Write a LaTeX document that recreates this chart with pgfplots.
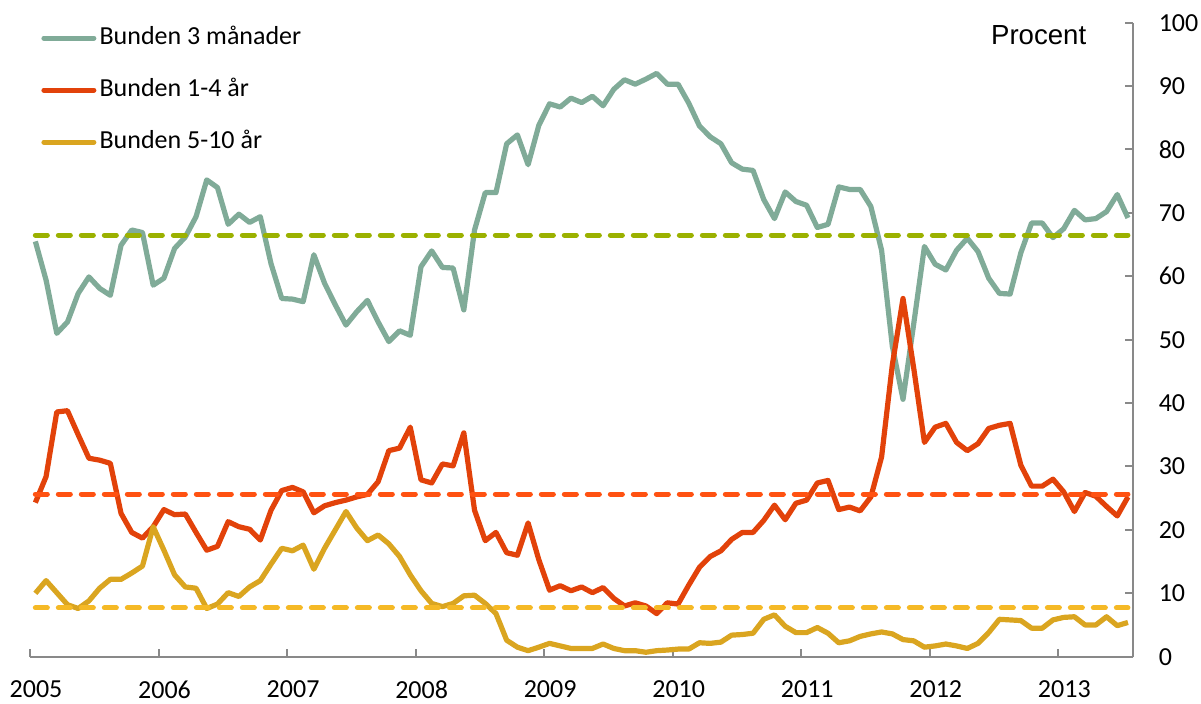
\documentclass[border=0pt]{standalone}
\usepackage{fontspec}
\setmainfont{Carlito}
\newfontfamily\arialfont{Liberation Sans}
\usepackage{pgfplots}
\pgfplotsset{compat=1.18}
\usepackage{pgfplotstable}

\definecolor{gline}{HTML}{80AB98}
\definecolor{rline}{HTML}{E2420A}
\definecolor{yline}{HTML}{DAA520}
\definecolor{gdash}{HTML}{9BB100}
\definecolor{rdash}{HTML}{FF5212}
\definecolor{ydash}{HTML}{F5B926}
\definecolor{axisgray}{HTML}{898989}

\pgfplotstableread{
i g r y
0 65.5 24.3 10.0
1 59.4 28.4 12.0
2 51.0 38.6 10.1
3 52.8 38.8 8.2
4 57.3 35.0 7.6
5 59.9 31.3 8.8
6 58.1 31.0 10.8
7 57.0 30.5 12.2
8 64.9 22.6 12.2
9 67.3 19.6 13.2
10 66.9 18.7 14.3
11 58.6 20.5 20.5
12 59.7 23.2 16.8
13 64.4 22.4 12.9
14 66.2 22.5 11.0
15 69.4 19.6 10.8
16 75.2 16.8 7.6
17 74.0 17.4 8.3
18 68.2 21.3 10.1
19 69.8 20.5 9.5
20 68.5 20.1 11.0
21 69.4 18.4 12.0
22 62.0 23.1 14.6
23 56.5 26.2 17.1
24 56.4 26.7 16.7
25 56.0 26.0 17.6
26 63.4 22.7 13.8
27 58.9 23.8 17.1
28 55.5 24.3 20.0
29 52.3 24.7 22.9
30 54.4 25.2 20.3
31 56.2 25.6 18.3
32 52.8 27.6 19.2
33 49.7 32.5 17.8
34 51.4 32.9 15.8
35 50.7 36.2 12.9
36 61.5 27.9 10.4
37 64.0 27.4 8.4
38 61.4 30.4 7.9
39 61.3 30.1 8.4
40 54.7 35.3 9.6
41 67.3 23.1 9.7
42 73.2 18.3 8.4
43 73.2 19.6 6.8
44 80.9 16.4 2.6
45 82.3 16.0 1.5
46 77.6 21.1 0.95
47 83.8 15.3 1.5
48 87.2 10.5 2.1
49 86.7 11.2 1.7
50 88.1 10.4 1.3
51 87.4 11.0 1.3
52 88.4 10.1 1.3
53 86.9 10.9 2.0
54 89.5 9.2 1.3
55 91.0 8.0 0.95
56 90.3 8.5 0.95
57 91.1 8.0 0.7
58 92.0 6.8 0.95
59 90.3 8.5 1.05
60 90.3 8.3 1.2
61 87.3 11.3 1.2
62 83.7 14.1 2.2
63 82.0 15.8 2.1
64 80.9 16.7 2.3
65 77.9 18.5 3.4
66 76.9 19.6 3.5
67 76.7 19.6 3.7
68 72.1 21.5 5.9
69 69.1 23.9 6.6
70 73.3 21.6 4.8
71 71.8 24.2 3.8
72 71.2 24.7 3.8
73 67.7 27.4 4.6
74 68.2 27.8 3.7
75 74.1 23.2 2.2
76 73.7 23.6 2.5
77 73.7 23.0 3.2
78 71.0 25.2 3.6
79 64.1 31.5 3.9
80 49.0 46.0 3.6
81 40.6 56.5 2.7
82 52.5 45.5 2.5
83 64.7 33.8 1.5
84 61.9 36.2 1.7
85 61.0 36.8 2.0
86 64.1 33.8 1.7
87 66.0 32.5 1.3
88 63.9 33.6 2.1
89 59.7 36.0 3.8
90 57.3 36.5 5.9
91 57.2 36.8 5.8
92 63.7 30.2 5.7
93 68.4 26.9 4.5
94 68.4 26.9 4.5
95 66.1 28.0 5.8
96 67.5 26.0 6.2
97 70.4 22.9 6.3
98 68.9 25.9 5.0
99 69.1 25.3 5.0
100 70.2 23.7 6.3
101 72.9 22.2 4.9
102 69.2 25.2 5.4
}\datatable

\begin{document}
\begin{tikzpicture}
\begin{axis}[
  scale only axis,
  width=551.65pt, height=317pt,
  xmin=-0.5, xmax=102.5, ymin=0, ymax=100,
  axis x line=bottom, axis y line=right,
  axis line style={-, draw=axisgray, line width=1pt},
  tick align=inside,
  major tick length=4pt,
  tick style={draw=axisgray, line width=1pt},
  xtick={-0.5,11.5,23.5,35.5,47.5,59.5,71.5,83.5,95.5},
  xticklabels={2005,2006,2007,2008,2009,2010,2011,2012,2013},
  ytick={0,10,20,30,40,50,60,70,80,90,100},
  /pgf/number format/assume math mode=true,
  tick label style={font=\fontsize{13}{15}\selectfont},
  xticklabel style={yshift=-8.5pt, xshift=3pt},
  yticklabel style={anchor=west, xshift=9.2pt},
  clip=false,
  legend cell align=left,
  legend image code/.code={\draw[#1, line cap=round, line width=2.5pt] (0pt,0pt) -- (25pt,0pt);},
  legend style={at={(rel axis cs:0,1)}, anchor=north west, xshift=5.5pt, yshift=-1.5pt,
    draw=none, fill=none, inner sep=0pt, row sep=14.0pt, column sep=1.6pt,
    font=\fontsize{13}{15}\selectfont,
    nodes={inner sep=0pt, text height=9pt, text depth=3pt}},
]
\addplot[gline, line width=2.6pt, line join=round] table[x=i, y=g] {\datatable};
\addlegendentry{Bunden 3 månader}
\addplot[rline, line width=2.6pt, line join=round] table[x=i, y=r] {\datatable};
\addlegendentry{Bunden 1-4 år}
\addplot[yline, line width=2.6pt, line join=round] table[x=i, y=y] {\datatable};
\addlegendentry{Bunden 5-10 år}
\addplot[forget plot, gdash, line width=2.5pt, line cap=round, dash pattern=on 6pt off 5.5pt] coordinates {(0,66.5) (102,66.5)};
\addplot[forget plot, rdash, line width=2.5pt, line cap=round, dash pattern=on 6pt off 5.5pt] coordinates {(0,25.66) (102,25.66)};
\addplot[forget plot, ydash, line width=2.5pt, line cap=round, dash pattern=on 6pt off 5.5pt] coordinates {(0,7.7) (102,7.7)};
\node[anchor=base east, font=\arialfont\fontsize{13.8}{16}\selectfont, xshift=-20pt, yshift=-10.8pt] at (rel axis cs:1,1) {Procent};
\coordinate (bl) at (rel axis cs:0,0);
\coordinate (tr) at (rel axis cs:1,1);
\end{axis}
\pgfresetboundingbox
\path ([xshift=-15pt,yshift=-23.65pt]bl) rectangle ([xshift=33.85pt,yshift=11.35pt]tr);
\end{tikzpicture}
\end{document}
